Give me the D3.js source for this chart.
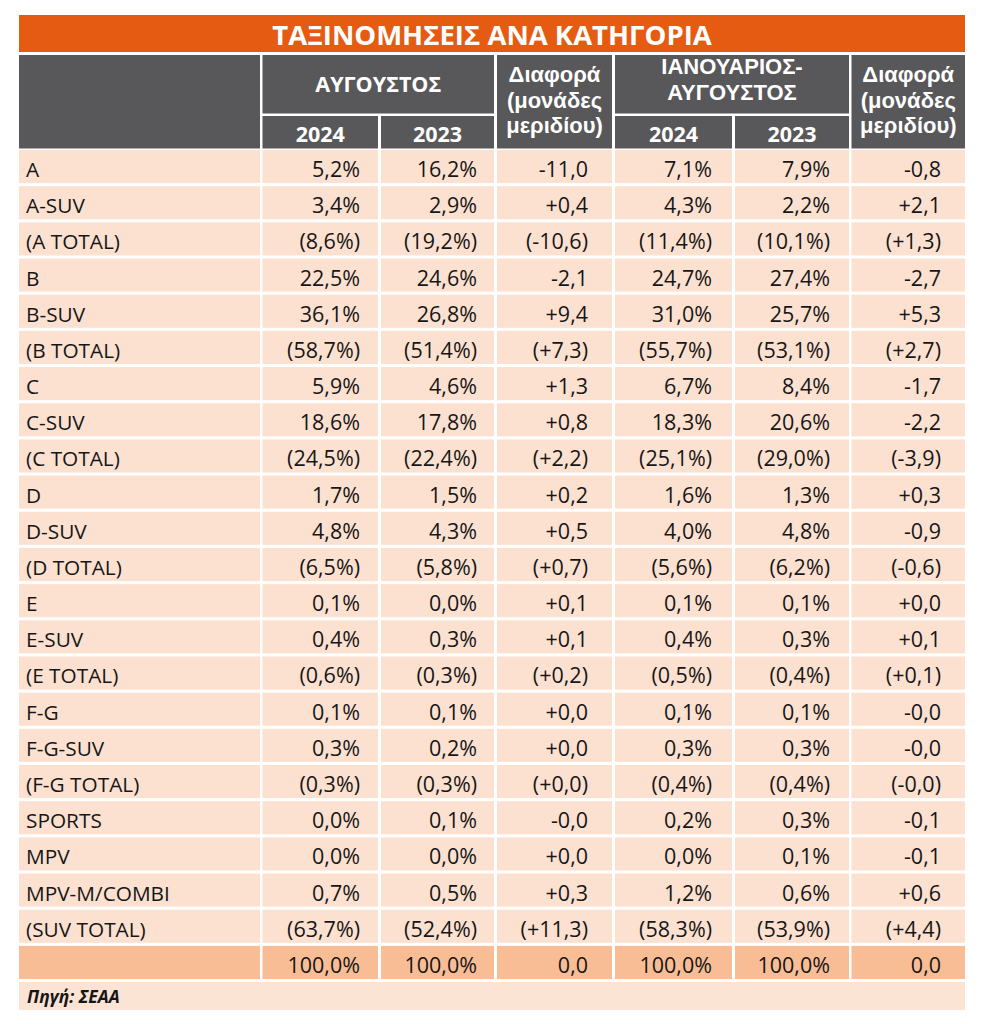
<!DOCTYPE html>
<html><head><meta charset="utf-8">
<script src="https://cdn.jsdelivr.net/npm/d3@7"></script>
<style>body{margin:0;background:#fff}svg{display:block}text{font-family:"Open Sans","Noto Sans",sans-serif}text.hd{font-family:"Liberation Sans",Arial,sans-serif}</style>
</head><body><svg id="c" width="987" height="1024"></svg>
<script>
const title = "ΤΑΞΙΝΟΜΗΣΕΙΣ ΑΝΑ ΚΑΤΗΓΟΡΙΑ";
const source = "Πηγή: ΣΕΑΑ";
const categories = ["A","A-SUV","(A TOTAL)","B","B-SUV","(B TOTAL)","C","C-SUV","(C TOTAL)","D","D-SUV","(D TOTAL)","E","E-SUV","(E TOTAL)","F-G","F-G-SUV","(F-G TOTAL)","SPORTS","MPV","MPV-M/COMBI","(SUV TOTAL)"];
const aug2024 = [5.2,3.4,8.6,22.5,36.1,58.7,5.9,18.6,24.5,1.7,4.8,6.5,0.1,0.4,0.6,0.1,0.3,0.3,0.0,0.0,0.7,63.7];
const aug2023 = [16.2,2.9,19.2,24.6,26.8,51.4,4.6,17.8,22.4,1.5,4.3,5.8,0.0,0.3,0.3,0.1,0.2,0.3,0.1,0.0,0.5,52.4];
const augDiff = [-11.0,0.4,-10.6,-2.1,9.4,7.3,1.3,0.8,2.2,0.2,0.5,0.7,0.1,0.1,0.2,0.0,0.0,0.0,-0,0.0,0.3,11.3];
const ytd2024 = [7.1,4.3,11.4,24.7,31.0,55.7,6.7,18.3,25.1,1.6,4.0,5.6,0.1,0.4,0.5,0.1,0.3,0.4,0.2,0.0,1.2,58.3];
const ytd2023 = [7.9,2.2,10.1,27.4,25.7,53.1,8.4,20.6,29.0,1.3,4.8,6.2,0.1,0.3,0.4,0.1,0.3,0.4,0.3,0.1,0.6,53.9];
const ytdDiff = [-0.8,2.1,1.3,-2.7,5.3,2.7,-1.7,-2.2,-3.9,0.3,-0.9,-0.6,0.0,0.1,0.1,-0,-0,-0,-0.1,-0.1,0.6,4.4];
const totalRow = [100.0,100.0,0.0,100.0,100.0,0.0];
const groupLabels = [["ΑΥΓΟΥΣΤΟΣ"], ["ΙΑΝΟΥΑΡΙΟΣ-","ΑΥΓΟΥΣΤΟΣ"]];
const yearLabels = ["2024","2023"];
const diffLabel = ["Διαφορά","(μονάδες","μεριδίου)"];

const svg = d3.select("#c");
const C = {title:"#E55B12", head:"#58585A", row:"#FCE1D1", total:"#F8BD95", src:"#FCE4D5"};
const cols = [[19,260],[262.5,378],[381,494],[497,612],[615,732],[735,849],[851.5,965]];
const kinds = ["pct","pct","diff","pct","pct","diff"];

const fmt = v => v.toFixed(1).replace(".", ",").replace("-", "");
const fmtPct = v => fmt(Math.abs(v)) + "%";
const fmtDiff = v => ((v < 0 || Object.is(v,-0)) ? "-" : "+") + fmt(Math.abs(v));

const nRows = categories.length + 1;
const y = d3.scaleBand().domain(d3.range(nRows)).range([150, 979]).paddingInner(0.085).paddingOuter(0);

const FS = 21.5, HS = 21.5;

svg.append("rect").attr("x",19).attr("y",15).attr("width",946).attr("height",37).attr("fill",C.title);
svg.append("text").attr("x",492).attr("y",44.5).attr("text-anchor","middle").attr("fill","#fff")
  .attr("font-size",27.5).attr("font-weight",700).text(title);

const hTop = 55, hMid = 113.5, hSub = 116, hBot = 148.5;
const hrect = (x0,x1,y0,y1) => svg.append("rect").attr("x",x0).attr("y",y0).attr("width",x1-x0).attr("height",y1-y0).attr("fill",C.head);
const htext = (x,y0,lines,lh,cls,size) => {
  const t = svg.append("text").attr("class",cls).attr("x",x).attr("y",y0).attr("text-anchor","middle").attr("fill","#fff")
    .attr("font-size",size).attr("font-weight",700);
  lines.forEach((l,i)=>t.append("tspan").attr("x",x).attr("dy",i?lh:0).text(l));
};
hrect(cols[0][0],cols[0][1],hTop,hBot);
[[1,2,3],[4,5,6]].forEach(([a,b,d],gi)=>{
  hrect(cols[a][0],cols[b][1],hTop,hMid);
  hrect(cols[a][0],cols[a][1],hSub,hBot);
  hrect(cols[b][0],cols[b][1],hSub,hBot);
  hrect(cols[d][0],cols[d][1],hTop,hBot);
  const cx = (cols[a][0]+cols[b][1])/2;
  const g = groupLabels[gi];
  if (g.length>1) htext(cx, 74, g, 25.5, "hd", 22);
  else htext(cx, 92, g, 0, "", HS);
  htext((cols[a][0]+cols[a][1])/2,142,[yearLabels[0]],0,"",HS);
  htext((cols[b][0]+cols[b][1])/2,142,[yearLabels[1]],0,"",HS);
  htext((cols[d][0]+cols[d][1])/2,82,diffLabel,25.5,"hd",22);
});

const series = [aug2024,aug2023,augDiff,ytd2024,ytd2023,ytdDiff];
const rows = categories.map((c,i)=>({label:c, total:c.startsWith("("), vals:series.map(s=>s[i]), isSum:false}));
rows.push({label:"", total:false, vals:totalRow, isSum:true});
const rightPad = [18,17,24,20,19,24];

const rg = svg.selectAll("g.row").data(rows).join("g").attr("class","row")
  .attr("transform",(d,i)=>`translate(0,${y(i)})`);
cols.forEach((cx)=>{
  rg.append("rect").attr("x",cx[0]).attr("width",cx[1]-cx[0]).attr("height",y.bandwidth())
    .attr("fill",d=>d.isSum?C.total:C.row);
});
rg.append("text").attr("x",26).attr("y",27).attr("font-size",20.8).attr("fill","#161616").text(d=>d.label);
kinds.forEach((k,ci)=>{
  rg.append("text").attr("x",cols[ci+1][1]-rightPad[ci]).attr("y",27).attr("text-anchor","end")
    .attr("font-size",FS).attr("fill","#161616")
    .text(d=>{
      const v = d.vals[ci];
      let s;
      if (d.isSum) s = k==="pct" ? fmtPct(v) : fmt(v);
      else s = k==="pct" ? fmtPct(v) : fmtDiff(v);
      return d.total ? "("+s+")" : s;
    });
});

svg.append("rect").attr("x",19).attr("y",982).attr("width",946).attr("height",28).attr("fill",C.src);
svg.append("text").attr("x",27).attr("y",1003).attr("font-size",17.5).attr("font-weight",700).attr("font-style","italic").attr("fill","#161616").text(source);
</script></body></html>
